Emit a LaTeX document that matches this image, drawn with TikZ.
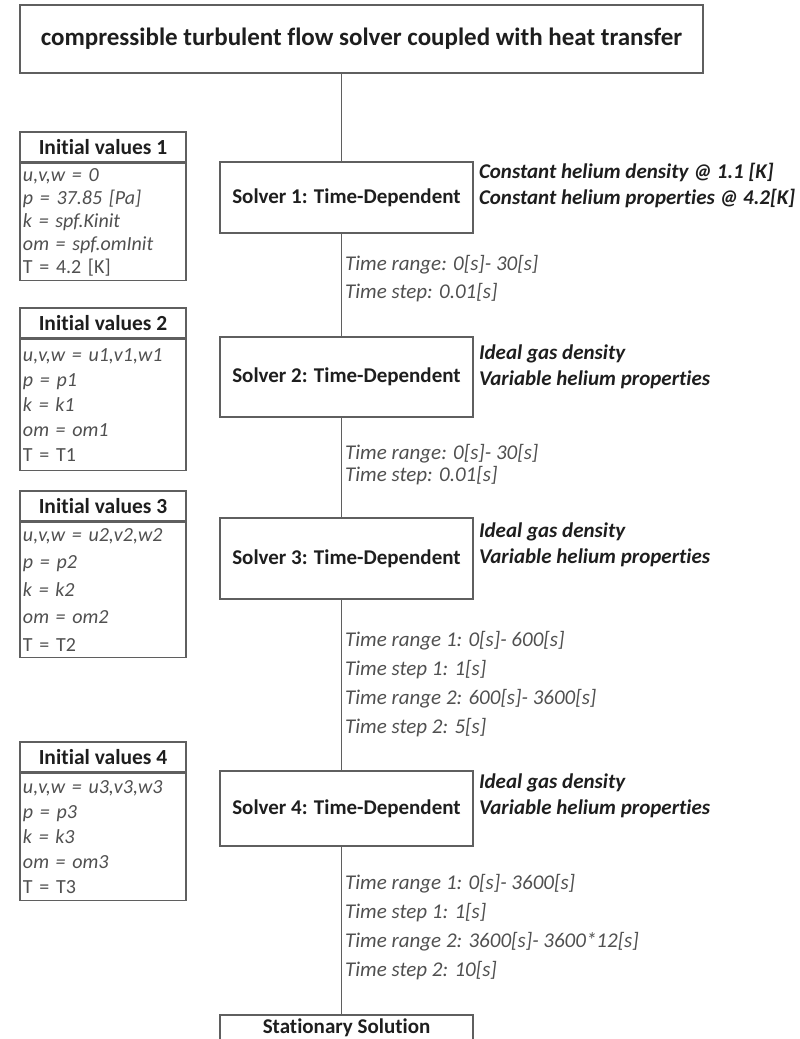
\documentclass[tikz,border=0pt]{standalone}
\usepackage{fontspec}
\setmainfont{Carlito}[Ligatures=NoCommon]
\usetikzlibrary{positioning}
\definecolor{edge}{RGB}{95,95,95}
\definecolor{soft}{RGB}{80,80,80}
\definecolor{ink}{RGB}{30,30,30}
\begin{document}
\begin{tikzpicture}[x=1pt,y=-1pt,
	box/.style={draw=edge,line width=1.6pt,fill=white,inner sep=0pt},
	solver/.style={box,minimum width=253pt,font=\fontsize{21}{25}\selectfont\bfseries,text=ink},
	ivhead/.style={box,minimum width=166pt,minimum height=30pt,font=\fontsize{21.5}{25}\selectfont\bfseries,text=ink},
	ivbody/.style={box,inner xsep=3pt,text width=160pt,align=left,font=\fontsize{20}{#1}\selectfont\itshape,text=soft},
	note/.style={align=left,inner sep=0pt,font=\fontsize{21}{26}\selectfont\bfseries\itshape,text=ink},
	timing/.style={align=left,inner sep=0pt,font=\fontsize{21}{#1}\selectfont\itshape,text=soft},
	link/.style={draw=edge,line width=0.8pt}]
	\useasboundingbox (0,0) rectangle (800,1039);
	\coordinate (spine) at (341,0);
	% main column
	\node (title) [box,minimum width=683pt,minimum height=68pt,font=\fontsize{25}{30}\selectfont\bfseries,text=ink] at (361.5,39) {compressible turbulent flow solver coupled with heat transfer};
	\node (s1) [solver,minimum height=71pt] at (346.5,197.5) {Solver 1: Time-Dependent};
	\node (s2) [solver,minimum height=80pt] at (346.5,377) {Solver 2: Time-Dependent};
	\node (s3) [solver,minimum height=81pt] at (346.5,558.5) {Solver 3: Time-Dependent};
	\node (s4) [solver,minimum height=75pt] at (346.5,808.5) {Solver 4: Time-Dependent};
	\node (stat) [solver,anchor=north,inner ysep=4pt,text depth=40pt] at (346.5,1014) {Stationary Solution};
	\draw[link] (title.south -| spine) -- (s1.north -| spine);
	\draw[link] (s1.south -| spine) -- (s2.north -| spine);
	\draw[link] (s2.south -| spine) -- (s3.north -| spine);
	\draw[link] (s3.south -| spine) -- (s4.north -| spine);
	\draw[link] (s4.south -| spine) -- (stat.north -| spine);
	% material notes
	\node (n1) [note,anchor=west] at ([shift={(5pt,12pt)}]s1.east) {Constant helium density @ 1.1 [K]\\Constant helium properties @ 4.2[K]};
	\node (n2) [note,anchor=west] at ([shift={(5pt,10pt)}]s2.east) {Ideal gas density\\Variable helium properties};
	\node (n3) [note,anchor=west] at ([shift={(5pt,14pt)}]s3.east) {Ideal gas density\\Variable helium properties};
	\node (n4) [note,anchor=west] at ([shift={(5pt,13pt)}]s4.east) {Ideal gas density\\Variable helium properties};
	% time stepping
	\node (t1) [timing=28pt,anchor=west] at (345,279) {Time range: 0[s]- 30[s]\\Time step: 0.01[s]};
	\node (t2) [timing=22pt,anchor=west] at (345,465) {Time range: 0[s]- 30[s]\\Time step: 0.01[s]};
	\node (t3) [timing=29pt,anchor=west] at (345,684) {Time range 1: 0[s]- 600[s]\\Time step 1: 1[s]\\Time range 2: 600[s]- 3600[s]\\Time step 2: 5[s]};
	\node (t4) [timing=29pt,anchor=west] at (345,927) {Time range 1: 0[s]- 3600[s]\\Time step 1: 1[s]\\Time range 2: 3600[s]- 3600*12[s]\\Time step 2: 10[s]};
	% initial values
	\node (h1) [ivhead,anchor=north] at (103,131) {Initial values 1};
	\node (b1) [ivbody=23pt,minimum height=117pt,below=0pt of h1] {u,v,w = 0\\p = 37.85 [Pa]\\k = spf.Kinit\\om = spf.omInit\\{\upshape T = 4.2 [K]}};
	\node (h2) [ivhead,anchor=north] at (103,307) {Initial values 2};
	\node (b2) [ivbody=25pt,minimum height=131pt,below=0pt of h2] {u,v,w = u1,v1,w1\\p = p1\\k = k1\\om = om1\\{\upshape T = T1}};
	\node (h3) [ivhead,anchor=north] at (103,490) {Initial values 3};
	\node (b3) [ivbody=27.5pt,minimum height=135pt,below=0pt of h3] {u,v,w = u2,v2,w2\\p = p2\\k = k2\\om = om2\\{\upshape T = T2}};
	\node (h4) [ivhead,anchor=north] at (103,741) {Initial values 4};
	\node (b4) [ivbody=25pt,minimum height=127pt,below=0pt of h4] {u,v,w = u3,v3,w3\\p = p3\\k = k3\\om = om3\\{\upshape T = T3}};
\end{tikzpicture}
\end{document}
